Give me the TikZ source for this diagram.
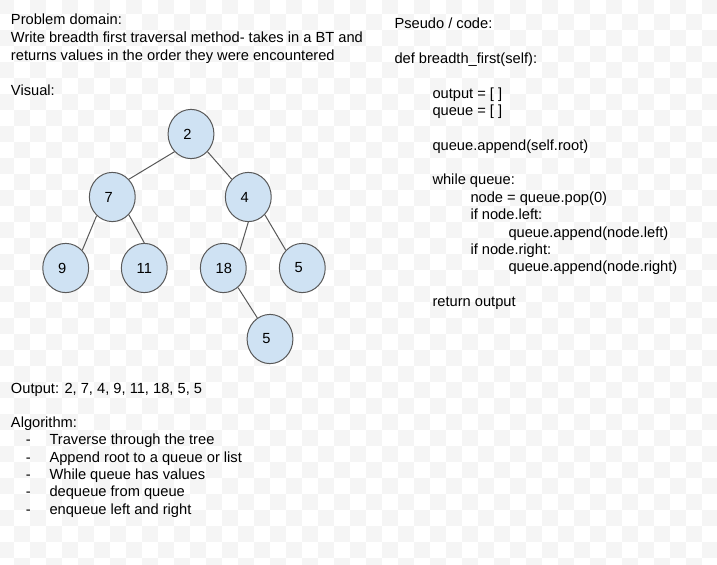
\documentclass[tikz,border=0pt]{standalone}
\usepackage{fontspec}
\setmainfont{Liberation Sans}
\usetikzlibrary{shapes.geometric}
\definecolor{checker}{RGB}{245,245,245}
\definecolor{nodefill}{RGB}{207,226,243}
\definecolor{linegray}{RGB}{89,89,89}
\newcommand{\nlbl}[1]{\makebox[11.4pt][l]{#1}}
\begin{document}
\begin{tikzpicture}[x=0.75pt,y=-0.75pt,
  font=\fontsize{11pt}{13pt}\selectfont,
  txt/.style={anchor=base west,inner sep=0pt,outer sep=0pt,text=black},
  tnode/.style={ellipse,draw=linegray,line width=0.75pt,fill=nodefill,
    minimum width=34.4pt,minimum height=36.9pt,inner sep=0pt,text=black},
  tedge/.style={draw=linegray,line width=0.75pt}]
\useasboundingbox (0,0) rectangle (717,564);
% checkerboard background
\begin{scope}
\clip (0,0) rectangle (717,564);
\fill[white] (0,0) rectangle (717,564);
\foreach \i in {0,...,44}{\foreach \j in {0,...,35}{%
  \pgfmathtruncatemacro\cpar{mod(\i+\j,2)}%
  \ifnum\cpar=0 \fill[checker] (16*\i-2,16*\j-2) rectangle ++(16,16);\fi}}
\end{scope}
% left text
\node[txt] (pd) at (11,24.5) {Problem domain:};
\node[txt] (pd2) at (11,42.8) {Write breadth first traversal method- takes in a BT and};
\node[txt] (pd3) at (11,60.2) {returns values in the order they were encountered};
\node[txt] (vis) at (11,95.5) {Visual:};
\node[txt] (out) at (11,393.2) {Output: 2, 7, 4, 9, 11, 18, 5, 5};
\node[txt] (alg) at (11,427.2) {Algorithm:};
\node[txt] (d1) at (26,444.8) {-};
\node[txt] (a1) at (49.5,444.8) {Traverse through the tree};
\node[txt] (d2) at (26,462.2) {-};
\node[txt] (a2) at (49.5,462.2) {Append root to a queue or list};
\node[txt] (d3) at (26,479.8) {-};
\node[txt] (a3) at (49.5,479.8) {While queue has values};
\node[txt] (d4) at (26,496.8) {-};
\node[txt] (a4) at (49.5,496.8) {dequeue from queue};
\node[txt] (d5) at (26,514) {-};
\node[txt] (a5) at (49.5,514) {enqueue left and right};
% right code
\node[txt] (c0) at (394.5,28.8) {Pseudo / code:};
\node[txt] (c1) at (394.5,63.5) {def breadth\_first(self):};
\node[txt] (c2) at (432.5,98.2) {output = [ ]};
\node[txt] (c3) at (432.5,115.55) {queue = [ ]};
\node[txt] (c4) at (432.5,150.25) {queue.append(self.root)};
\node[txt] (c5) at (432.5,184.95) {while queue:};
\node[txt] (c6) at (470.5,202.3) {node = queue.pop(0)};
\node[txt] (c7) at (470.5,219.65) {if node.left:};
\node[txt] (c8) at (508.5,237) {queue.append(node.left)};
\node[txt] (c9) at (470.5,254.35) {if node.right:};
\node[txt] (c10) at (508.5,271.7) {queue.append(node.right)};
\node[txt] (c11) at (432.5,306.4) {return output};
% tree
\node[tnode] (n2) at (191,134) {\nlbl{2}};
\node[tnode] (n7) at (112.3,197) {\nlbl{7}};
\node[tnode] (n4) at (248.3,197) {\nlbl{4}};
\node[tnode] (n9) at (65.7,268) {\nlbl{9}};
\node[tnode] (n11) at (144.3,268) {\nlbl{11}};
\node[tnode] (n18) at (223.3,268) {\nlbl{18}};
\node[tnode] (n5a) at (302.3,268) {\nlbl{5}};
\node[tnode] (n5b) at (270,339) {\nlbl{5}};
\draw[tedge] (n2.227) -- (n7.47);
\draw[tedge] (n2.313) -- (n4.133);
\draw[tedge] (n7.230) -- (n9.47);
\draw[tedge] (n7.313) -- (n11.north);
\draw[tedge] (n4.south) -- (n18.47);
\draw[tedge] (n4.313) -- (n5a.133);
\draw[tedge] (n18.307) -- (n5b.121);
\end{tikzpicture}
\end{document}
